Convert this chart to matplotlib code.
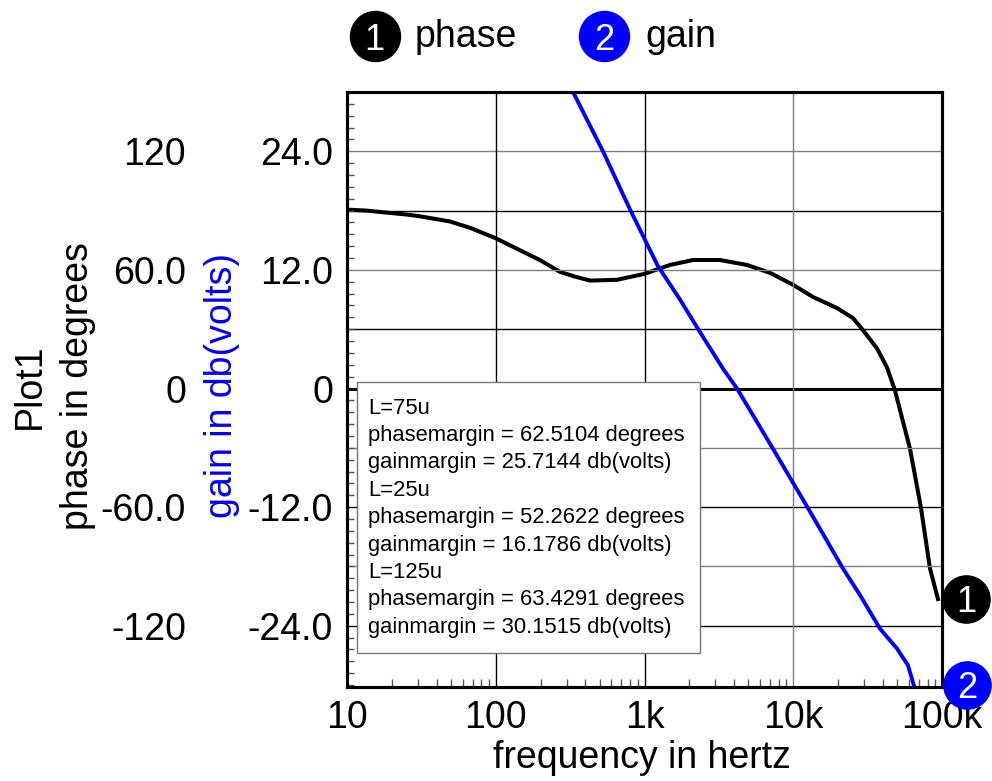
import numpy as np
import matplotlib
matplotlib.use("Agg")
import matplotlib.pyplot as plt
from matplotlib.lines import Line2D
from matplotlib.patches import Rectangle
from matplotlib.ticker import FixedLocator, LogLocator, MultipleLocator, NullFormatter, NullLocator

plt.rcParams['font.family'] = ['Liberation Sans', 'DejaVu Sans']

# phase curve (degrees)
freq_phase = [10, 13.6, 16.7, 25.3, 31.0, 49.2, 67.2, 100, 134.6, 198, 270, 341, 431,
              653, 1000, 1483, 2118, 3221, 4887, 6982, 10000, 13580, 19680, 25230,
              29440, 36560, 42660, 48310, 52240, 60950, 72280, 82990, 93970]
phase_deg = [90.5, 90, 89.3, 88, 87.1, 84.5, 81.3, 76, 71.2, 65, 59, 56.6, 54.6,
             55, 58, 62.5, 65, 65, 62.5, 58.5, 52.4, 46.3, 40.7, 35.6,
             29.5, 20.3, 10.7, -1, -11, -30.5, -60.5, -91, -106.5]

# gain curve (db)
freq_gain = [316, 386, 526, 800, 1230, 1733, 2362, 3373, 4189, 7311, 12560,
             21580, 28100, 38300, 49770, 59020, 65770]
gain_db = [30.6, 28, 24, 18.1, 12.4, 9.0, 5.7, 2.0, 0, -6.1, -12.1,
           -18.2, -20.9, -24.3, -26.3, -28, -30.4]

phase_ticks = [-120, -60, 0, 60, 120]
phase_ticklabels = ['-120', '-60.0', '0', '60.0', '120']
gain_ticks = [-24, -12, 0, 12, 24]
gain_ticklabels = ['-24.0', '-12.0', '0', '12.0', '24.0']
freq_ticks = [10, 100, 1e3, 1e4, 1e5]
freq_ticklabels = ['10', '100', '1k', '10k', '100k']

margin_text = ['L=75u',
               'phasemargin = 62.5104 degrees',
               'gainmargin = 25.7144 db(volts)',
               'L=25u',
               'phasemargin = 52.2622 degrees',
               'gainmargin = 16.1786 db(volts)',
               'L=125u',
               'phasemargin = 63.4291 degrees',
               'gainmargin = 30.1515 db(volts)']

W, H = 992, 781
def fx(px): return px / W
def fy(py): return 1 - py / H

FS = 27  # main font size

fig = plt.figure(figsize=(W / 100, H / 100), dpi=100)
ax = fig.add_axes([fx(347), fy(687), 595 / W, 595 / H])   # phase axis
ax2 = ax.twinx()                                          # gain axis, drawn on top

GMIN, GMAX = -30.2, 30.0
ax.set_xscale('log')
ax.set_xlim(10, 1e5)
ax.set_ylim(GMIN * 5, GMAX * 5)
ax2.set_ylim(GMIN, GMAX)

# grid (gain units on ax2)
grid_cols = {24: '#808080', 18: 'black', 12: '#808080', 6: 'black',
             -6: '#808080', -12: 'black', -18: '#808080', -24: 'black'}
for v, c in grid_cols.items():
    ax2.axhline(v, color=c, lw=1.0, zorder=0)
ax2.axhline(0, color='black', lw=2.2, zorder=0)
for f, c in [(100, 'black'), (1e3, 'black'), (1e4, '#808080')]:
    ax2.axvline(f, color=c, lw=1.0, zorder=0)

ax.plot(freq_phase, phase_deg, color='black', lw=2.9, solid_joinstyle='round')
ax2.plot(freq_gain, gain_db, color='#0000ff', lw=2.8, solid_joinstyle='round')

# ticks
ax.yaxis.set_major_locator(FixedLocator(phase_ticks))
ax.set_yticklabels(phase_ticklabels)
ax.tick_params(axis='y', which='both', length=0, pad=116, labelsize=FS)
ax.yaxis.set_minor_locator(NullLocator())

ax2.yaxis.set_ticks_position('left')
ax2.yaxis.set_major_locator(FixedLocator(gain_ticks))
ax2.set_yticklabels(gain_ticklabels)
ax2.yaxis.set_minor_locator(MultipleLocator(1.2))
ax2.tick_params(axis='y', which='major', length=0, pad=10, labelsize=FS,
                labelleft=True, labelright=False)
ax2.tick_params(axis='y', which='minor', direction='in', length=5, width=1,
                color='#555555', left=True, right=False)

ax.xaxis.set_major_locator(FixedLocator(freq_ticks))
ax.set_xticklabels(freq_ticklabels)
ax.xaxis.set_minor_locator(LogLocator(base=10, subs=np.arange(2, 10)))
ax.xaxis.set_minor_formatter(NullFormatter())
ax.tick_params(axis='x', which='major', length=0, pad=9, labelsize=FS)
ax.tick_params(axis='x', which='minor', direction='in', length=6, width=1,
               color='#555555')
ax2.tick_params(axis='x', which='both', length=0)

for a in (ax, ax2):
    for s in a.spines.values():
        s.set_linewidth(2.2)
        s.set_color('black')

# axis titles
fig.text(fx(30), fy(386), 'Plot1', rotation=90, ha='center', va='center', fontsize=FS)
fig.text(fx(78), fy(386), 'phase in degrees', rotation=90, ha='center', va='center', fontsize=FS)
fig.text(fx(222), fy(386), 'gain in db(volts)', rotation=90, ha='center', va='center',
         fontsize=FS, color='#0000ff')
fig.text(fx(642), fy(758), 'frequency in hertz', ha='center', va='center', fontsize=FS)

# margins box
fig.add_artist(Rectangle((fx(357), fy(653)), fx(700) - fx(357), fy(382) - fy(653),
                         transform=fig.transFigure, facecolor='white',
                         edgecolor='#777777', lw=1.0, zorder=5))
for i, line in enumerate(margin_text):
    fig.text(fx(368), fy(408 + 27.4 * i), line, ha='left', va='center',
             fontsize=15.8, zorder=6)

# numbered badges
def badge(x, y, num, col, size):
    fig.add_artist(Line2D([fx(x)], [fy(y)], marker='o', markersize=size,
                          markerfacecolor=col, markeredgecolor=col,
                          transform=fig.transFigure, zorder=7))
    fig.text(fx(x), fy(y), num, ha='center', va='center_baseline', color='white',
             fontsize=26, zorder=8)

badge(374.5, 36, '1', 'black', 36)
badge(604, 36, '2', '#0000ff', 36)
fig.text(fx(415), fy(47), 'phase', ha='left', va='baseline', fontsize=27)
fig.text(fx(645), fy(47), 'gain', ha='left', va='baseline', fontsize=27)

# end-of-trace badges (the "2" sits over the 100k label, as in the source)
badge(966, 599, '1', 'black', 34)
badge(967, 685, '2', '#0000ff', 34)

fig.savefig('out.png', dpi=100)
